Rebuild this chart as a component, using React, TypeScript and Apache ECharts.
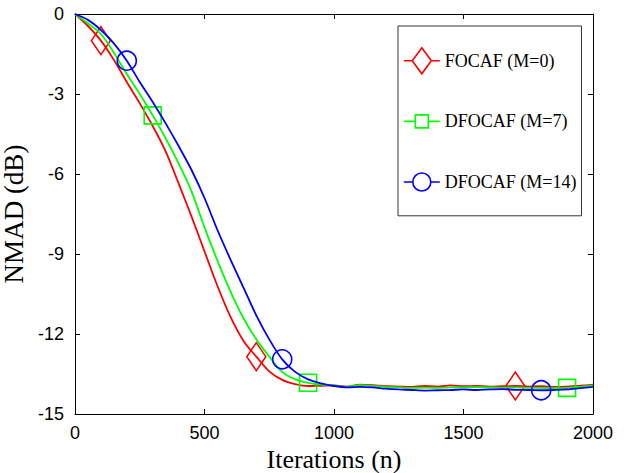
import React, { useEffect, useRef } from "react";
import * as echarts from "echarts";

const iterations = [
  0, 50, 100, 150, 200, 250, 300, 350, 400, 450, 500, 550, 600, 650, 700, 750, 800, 850, 900, 950,
  1000, 1050, 1100, 1150, 1200, 1250, 1300, 1350, 1400, 1450, 1500, 1550, 1600, 1650, 1700, 1750,
  1800, 1850, 1900, 1950, 2000,
];

const focaf = [
  0, -0.45, -1.0, -1.72, -2.55, -3.35, -4.2, -5.15, -6.35, -7.6, -8.9, -10.2, -11.35, -12.25, -12.85,
  -13.4, -13.72, -13.88, -13.95, -13.94, -13.93, -13.97, -13.9, -13.92, -13.96, -13.97, -13.98,
  -13.95, -13.97, -13.93, -13.96, -13.95, -13.97, -13.96, -13.95, -13.97, -13.96, -13.98, -13.97,
  -13.94, -13.9,
];

const dfocaf7 = [
  0, -0.35, -0.75, -1.45, -2.25, -3.0, -3.8, -4.66, -5.6, -6.65, -8.0, -9.25, -10.4, -11.4, -12.2,
  -12.85, -13.42, -13.7, -13.83, -13.9, -13.93, -13.98, -13.92, -13.95, -13.98, -14.0, -14.02,
  -14.01, -14.02, -14.0, -14.0, -13.99, -14.0, -14.01, -14.0, -14.02, -14.02, -14.03, -14.02,
  -13.98, -13.93,
];

const dfocaf14 = [
  0, -0.22, -0.6, -1.1, -1.75, -2.55, -3.3, -4.1, -4.95, -5.85, -6.9, -8.1, -9.2, -10.25, -11.3,
  -12.2, -12.95, -13.42, -13.7, -13.85, -13.95, -14.0, -13.98, -14.0, -14.05, -14.08, -14.1, -14.12,
  -14.11, -14.1, -14.08, -14.1, -14.08, -14.07, -14.09, -14.1, -14.11, -14.1, -14.08, -14.03, -13.98,
];

const seriesNames = ["FOCAF (M=0)", "DFOCAF (M=7)", "DFOCAF (M=14)"];
const seriesColors = ["#ff0000", "#00ff00", "#0000ff"];
const seriesSymbols = ["diamond", "rect", "circle"];
const seriesSymbolSizes: any[] = [[19, 28], 17, 19];
const markerIterations = [
  [100, 700, 1700],
  [300, 900, 1900],
  [200, 800, 1800],
];
const seriesValues = [focaf, dfocaf7, dfocaf14];

// legend icons: short line + marker, drawn in a 36 x 28 box
const legendIcons = [
  "path://M18,0 L18,0 M18,28 L18,28 M0,14 L8.5,14 M27.5,14 L36,14 M18,1 L27.5,14 L18,27 L8.5,14 Z",
  "path://M18,0 L18,0 M18,28 L18,28 M0,14 L11.5,14 M24.5,14 L36,14 M11.5,7.5 L24.5,7.5 L24.5,20.5 L11.5,20.5 Z",
  "path://M18,0 L18,0 M18,28 L18,28 M0,14 L9,14 M27,14 L36,14 M9,14 A9,9 0 1,1 27,14 A9,9 0 1,1 9,14 Z",
];

const xTicks = { min: 0, max: 2000, interval: 500 };
const yTicks = { min: -15, max: 0, interval: 3 };

const serifFont = "'Liberation Serif', 'DejaVu Serif', serif";
const sansFont = "'Liberation Sans', Arial, sans-serif";

export default function App() {
  const ref = useRef<HTMLDivElement>(null);

  useEffect(() => {
    if (!ref.current) return;
    document.body.style.margin = "0";
    const chart = echarts.init(ref.current, undefined, { renderer: "svg" });

    const axisLine = { show: true, onZero: false, lineStyle: { color: "#000", width: 1 } };
    const axisTick = { show: true, inside: true, length: 5, lineStyle: { color: "#000", width: 1 } };

    const series = seriesNames.map((name, k) => ({
      name,
      type: "line",
      xAxisIndex: 0,
      yAxisIndex: 0,
      symbol: seriesSymbols[k],
      symbolSize: seriesSymbolSizes[k],
      showSymbol: true,
      showAllSymbol: true,
      smooth: 0.3,
      lineStyle: { color: seriesColors[k], width: 1.8 },
      itemStyle: { color: "rgba(0,0,0,0)", borderColor: seriesColors[k], borderWidth: 1.6 },
      emphasis: { disabled: true },
      z: 3 + k,
      data: iterations.map((n, i) => ({
        value: [n, seriesValues[k][i]],
        symbol: markerIterations[k].includes(n) ? seriesSymbols[k] : "none",
      })),
    }));

    chart.setOption({
      animation: false,
      backgroundColor: "#fff",
      grid: { left: 75, right: 36, top: 14, bottom: 59, containLabel: false, outerBoundsMode: "none" },
      legend: {
        orient: "vertical",
        left: 398,
        top: 26,
        padding: [20, 5, 19, 5],
        itemGap: 31,
        itemWidth: 36,
        itemHeight: 28,
        borderColor: "#333",
        borderWidth: 1,
        backgroundColor: "#fff",
        data: seriesNames.map((name, k) => ({
          name,
          icon: legendIcons[k],
          itemStyle: { color: "rgba(0,0,0,0)", borderColor: seriesColors[k], borderWidth: 1.6 },
        })),
        textStyle: { fontFamily: serifFont, fontSize: 18, color: "#000" },
      },
      xAxis: [
        {
          type: "value",
          position: "bottom",
          ...xTicks,
          axisLine,
          axisTick,
          splitLine: { show: false },
          axisLabel: {
            fontFamily: sansFont,
            fontSize: 18,
            color: "#000",
            margin: 10,
            formatter: (v: number) => String(v),
          },
          name: "Iterations (n)",
          nameLocation: "middle",
          nameGap: 26,
          nameTextStyle: { fontFamily: serifFont, fontSize: 26, color: "#000" },
        },
        {
          type: "value",
          position: "top",
          ...xTicks,
          axisLine,
          axisTick,
          splitLine: { show: false },
          axisLabel: { show: false },
        },
      ],
      yAxis: [
        {
          type: "value",
          position: "left",
          ...yTicks,
          axisLine,
          axisTick,
          splitLine: { show: false },
          axisLabel: {
            fontFamily: sansFont,
            fontSize: 18,
            color: "#000",
            margin: 11,
            formatter: (v: number) => String(v),
          },
          name: "NMAD (dB)",
          nameLocation: "middle",
          nameGap: 30,
          nameTextStyle: { fontFamily: serifFont, fontSize: 27, color: "#000" },
        },
        {
          type: "value",
          position: "right",
          ...yTicks,
          axisLine,
          axisTick,
          splitLine: { show: false },
          axisLabel: { show: false },
        },
      ],
      series,
    });

    return () => chart.dispose();
  }, []);

  return (
    <div
      ref={ref}
      style={{ position: "absolute", left: 0, top: 0, width: 629, height: 473 }}
    />
  );
}
